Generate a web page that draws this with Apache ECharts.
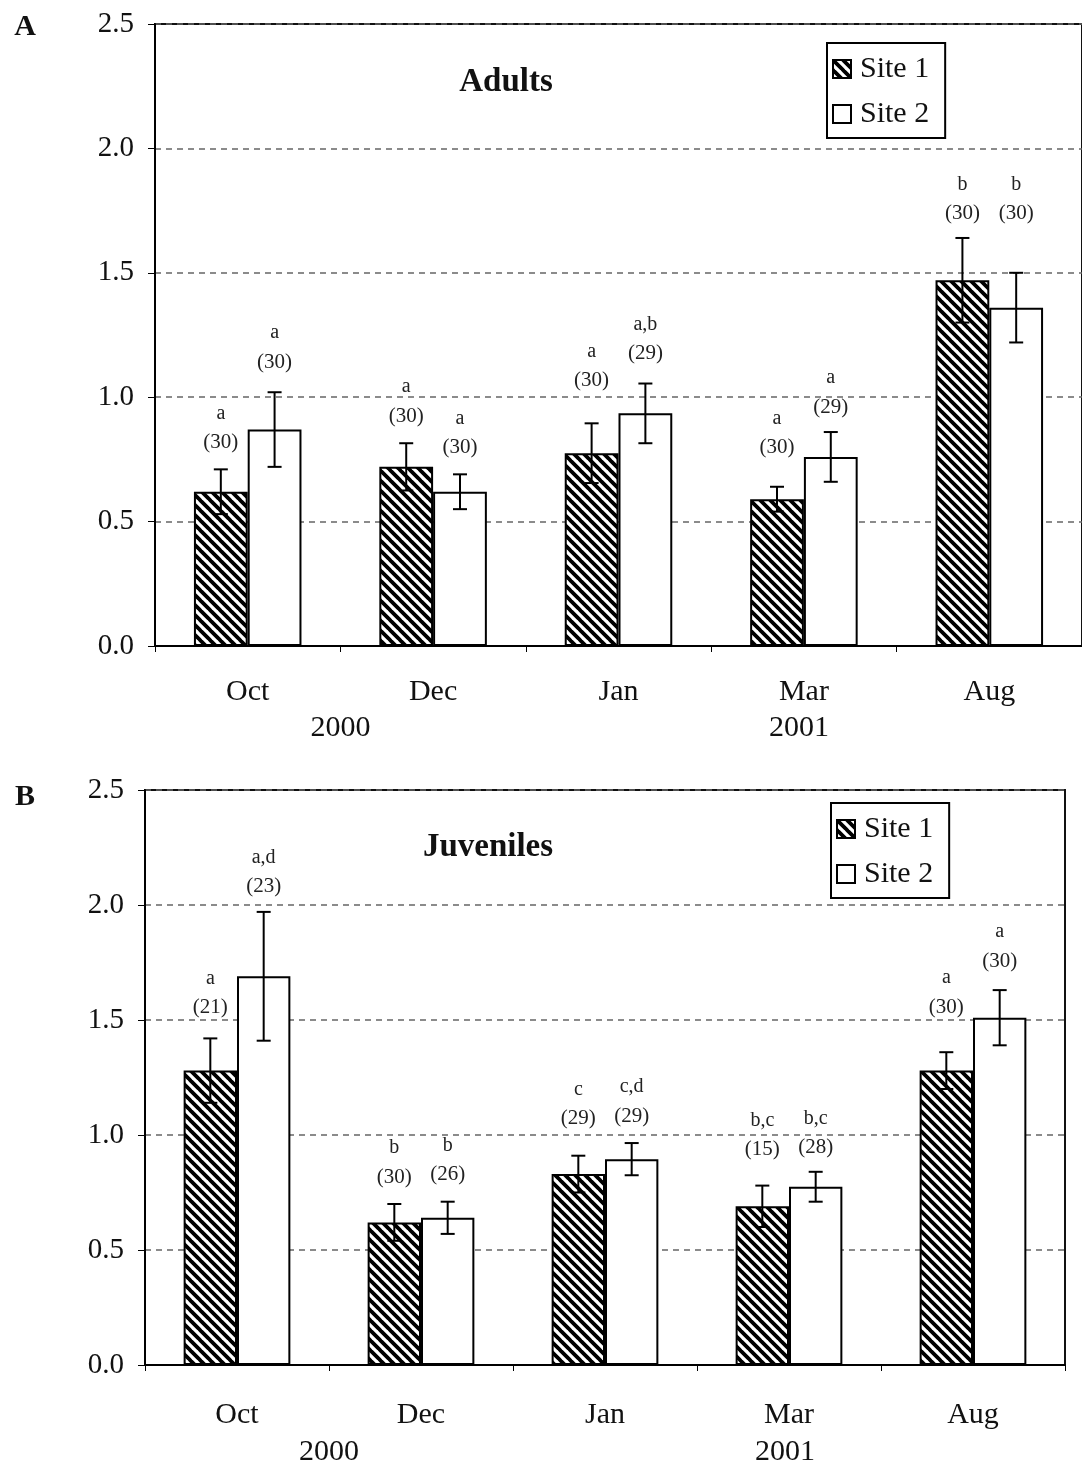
<!DOCTYPE html>
<html>
<head>
<meta charset="utf-8">
<script src="https://cdn.jsdelivr.net/npm/echarts@6/dist/echarts.min.js"></script>
<style>
  html, body { margin: 0; padding: 0; background: #fff; }
  #chart { width: 1082px; height: 1470px; }
</style>
</head>
<body>
<div id="chart"></div>
<script>
// Sampling months
const months = ['Oct', 'Dec', 'Jan', 'Mar', 'Aug'];
const yTicks = [0, 0.5, 1.0, 1.5, 2.0, 2.5];

// Panel A – adults: means, error half-widths, group letters and sample sizes
const adultSite1 = [0.62, 0.72, 0.775, 0.59, 1.47];
const adultSite1Err = [0.09, 0.095, 0.12, 0.05, 0.17];
const adultSite1Groups = ['a', 'a', 'a', 'a', 'b'];
const adultSite1N = [30, 30, 30, 30, 30];

const adultSite2 = [0.87, 0.62, 0.935, 0.76, 1.36];
const adultSite2Err = [0.15, 0.07, 0.12, 0.10, 0.14];
const adultSite2Groups = ['a', 'a', 'a,b', 'a', 'b'];
const adultSite2N = [30, 30, 29, 29, 30];

// Panel B – juveniles
const juvSite1 = [1.28, 0.62, 0.83, 0.69, 1.28];
const juvSite1Err = [0.14, 0.08, 0.08, 0.09, 0.08];
const juvSite1Groups = ['a', 'b', 'c', 'b,c', 'a'];
const juvSite1N = [21, 30, 29, 15, 30];

const juvSite2 = [1.69, 0.64, 0.895, 0.775, 1.51];
const juvSite2Err = [0.28, 0.07, 0.07, 0.065, 0.12];
const juvSite2Groups = ['a,d', 'b', 'c,d', 'b,c', 'a'];
const juvSite2N = [23, 26, 29, 28, 30];

// Layout: extra lift (px) of each annotation above its error bar
const liftA1 = [0, 0, 16, 12, -3];
const liftA2 = [3, 0, 3, -2, 32];
const liftB1 = [4, 0, 10, 9, 18];
const liftB2 = [-2, 0, 0, -3, 2];

const FONT = 'Liberation Serif';

// Diagonal hatch fill for Site 1
function hatchCanvas() {
  const s = 10;
  const c = document.createElement('canvas');
  c.width = s; c.height = s;
  const ctx = c.getContext('2d');
  ctx.fillStyle = '#fff';
  ctx.fillRect(0, 0, s, s);
  ctx.strokeStyle = '#000';
  ctx.lineWidth = 3.8;
  ctx.beginPath();
  for (const k of [-s, 0, s]) {
    ctx.moveTo(k - 1, -1);
    ctx.lineTo(k + s + 1, s + 1);
  }
  ctx.stroke();
  return c;
}
const hatchFill = { image: hatchCanvas(), repeat: 'repeat' };

const CAT_GAP = 0.42;                   // barCategoryGap
const HALF_OFFSET = (1 - CAT_GAP) / 4;  // bar centre offset as a fraction of the band

function barSeries(name, values, fill, axis) {
  return {
    type: 'bar', name: name,
    xAxisIndex: axis, yAxisIndex: axis,
    data: values,
    barGap: '0%', barCategoryGap: (CAT_GAP * 100) + '%',
    itemStyle: { color: fill, borderColor: '#000', borderWidth: 2 },
    z: 2
  };
}

// Error bars plus the letter / (n) annotations above them
function errorSeries(values, errs, groups, ns, lift, side, axis) {
  return {
    type: 'custom',
    name: 'err',
    xAxisIndex: axis, yAxisIndex: axis,
    data: values.map((v, i) => [i, v, errs[i]]),
    z: 5,
    renderItem: function (params, api) {
      const i = api.value(0), v = api.value(1), e = api.value(2);
      const band = api.size([1, 0])[0];
      const x = api.coord([i, v])[0] + side * HALF_OFFSET * band;
      const yTop = api.coord([i, v + e])[1];
      const yBot = api.coord([i, v - e])[1];
      const cap = 7;
      const ls = { stroke: '#000', lineWidth: 2 };
      const idx = params.dataIndex;
      const yN = yTop - 27 - lift[idx];
      return {
        type: 'group',
        children: [
          { type: 'line', shape: { x1: x, y1: yTop, x2: x, y2: yBot }, style: ls },
          { type: 'line', shape: { x1: x - cap, y1: yTop, x2: x + cap, y2: yTop }, style: ls },
          { type: 'line', shape: { x1: x - cap, y1: yBot, x2: x + cap, y2: yBot }, style: ls },
          { type: 'text', x: x, y: yN,
            style: { text: '(' + ns[idx] + ')', fill: '#222', font: '21px "' + FONT + '"',
                     align: 'center', verticalAlign: 'middle' } },
          { type: 'text', x: x, y: yN - 29,
            style: { text: groups[idx], fill: '#222', font: '20px "' + FONT + '"',
                     align: 'center', verticalAlign: 'middle' } }
        ]
      };
    }
  };
}

function xAxisFor(grid, margin) {
  return {
    type: 'category', gridIndex: grid, data: months,
    axisLine: { lineStyle: { color: '#000', width: 2 } },
    axisTick: { show: true, length: 6, lineStyle: { color: '#000', width: 1 } },
    axisLabel: { color: '#111', fontSize: 30, fontFamily: FONT, margin: margin },
    splitLine: { show: false }
  };
}

function yAxisFor(grid) {
  return {
    type: 'value', gridIndex: grid,
    min: yTicks[0], max: yTicks[yTicks.length - 1], interval: 0.5,
    axisLine: { show: true, lineStyle: { color: '#000', width: 2 } },
    axisTick: { show: true, length: 7, lineStyle: { color: '#000', width: 1 } },
    axisLabel: { color: '#111', fontSize: 29, fontFamily: FONT, margin: 21,
                 formatter: v => v.toFixed(1) },
    splitLine: { show: true, lineStyle: { color: '#666', width: 1.5, type: [6, 5] } }
  };
}

function legendFor(left, top) {
  return {
    data: ['Site 1', 'Site 2'],
    orient: 'vertical', left: left, top: top,
    icon: 'rect', itemWidth: 18, itemHeight: 18, itemGap: 13,
    padding: [10, 16, 8, 5],
    borderColor: '#000', borderWidth: 2,
    textStyle: { color: '#111', fontSize: 30, lineHeight: 32, fontFamily: FONT, padding: [0, 0, 0, 4] }
  };
}

const chart = echarts.init(document.getElementById('chart'), null, { renderer: 'canvas' });

chart.setOption({
  animation: false,
  backgroundColor: '#fff',
  grid: [
    { left: 155, top: 24, width: 930, height: 622, show: true, borderColor: '#111', borderWidth: 2 },
    { left: 145, top: 790, width: 920, height: 575, show: true, borderColor: '#111', borderWidth: 2 }
  ],
  xAxis: [xAxisFor(0, 31), xAxisFor(1, 35)],
  yAxis: [yAxisFor(0), yAxisFor(1)],
  legend: [legendFor(827, 43), legendFor(831, 803)],
  series: [
    barSeries('Site 1', adultSite1, hatchFill, 0),
    barSeries('Site 2', adultSite2, '#fff', 0),
    errorSeries(adultSite1, adultSite1Err, adultSite1Groups, adultSite1N, liftA1, -1, 0),
    errorSeries(adultSite2, adultSite2Err, adultSite2Groups, adultSite2N, liftA2, 1, 0),
    barSeries('Site 1', juvSite1, hatchFill, 1),
    barSeries('Site 2', juvSite2, '#fff', 1),
    errorSeries(juvSite1, juvSite1Err, juvSite1Groups, juvSite1N, liftB1, -1, 1),
    errorSeries(juvSite2, juvSite2Err, juvSite2Groups, juvSite2N, liftB2, 1, 1)
  ]
});

// Panel titles, panel letters and the year captions under the month axis
function px(axis, month) {
  return chart.convertToPixel({ xAxisIndex: axis }, month);
}
function textEl(text, x, y, size, bold) {
  return {
    type: 'text', x: x, y: y,
    style: { text: text, fill: '#111', font: (bold ? 'bold ' : '') + size + 'px "' + FONT + '"',
             align: 'center', verticalAlign: 'middle' }
  };
}
const yearA = 728, yearB = 1452;
chart.setOption({
  graphic: [
    textEl('A', 25, 27, 30, true),
    textEl('B', 25, 797, 30, true),
    textEl('Adults', 506, 82, 33, true),
    textEl('Juveniles', 488, 847, 33, true),
    textEl('2000', (px(0, 'Oct') + px(0, 'Dec')) / 2, yearA, 30, false),
    textEl('2001', px(0, 'Mar') - 5, yearA, 30, false),
    textEl('2000', (px(1, 'Oct') + px(1, 'Dec')) / 2, yearB, 30, false),
    textEl('2001', px(1, 'Mar') - 4, yearB, 30, false)
  ]
});
</script>
</body>
</html>
